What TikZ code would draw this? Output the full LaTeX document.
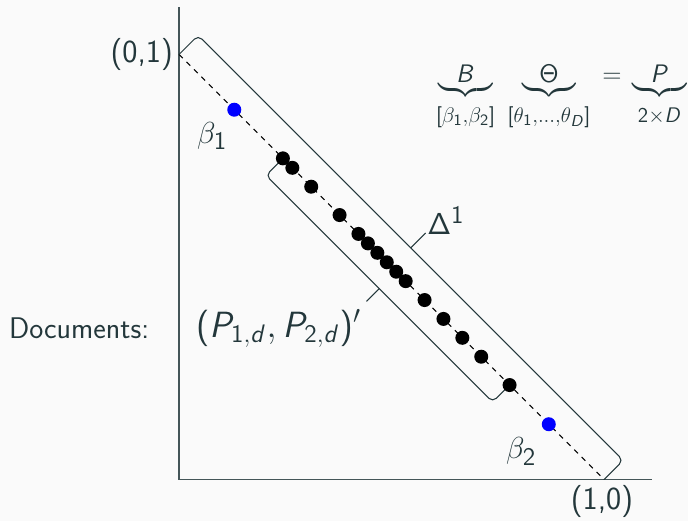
\documentclass[tikz,border=0pt]{standalone}
\usepackage{amsmath}
\usepackage{exscale}
\usepackage{xcolor}
\usepackage{tikz}
\usetikzlibrary{arrows.meta,positioning,calc}

\definecolor{fgdark}{HTML}{23373B}
\definecolor{bglight}{HTML}{FAFAFA}

% sans math letters, greek lowercase stays CM
\DeclareSymbolFont{sfletters}{OT1}{cmss}{m}{sl}
\SetSymbolFont{operators}{normal}{OT1}{cmss}{m}{n}
\DeclareMathSymbol{B}{\mathalpha}{sfletters}{`B}
\DeclareMathSymbol{P}{\mathalpha}{sfletters}{`P}
\DeclareMathSymbol{D}{\mathalpha}{sfletters}{`D}
\DeclareMathSymbol{d}{\mathalpha}{sfletters}{`d}

\newcommand{\bracelabel}[1]{\mbox{\fontsize{18.1}{21}\selectfont\rule{0pt}{12.5pt}$\scriptstyle#1$}}

\tikzset{
  docdot/.style={circle,fill=black,inner sep=0pt,minimum size=0.28cm},
  topicdot/.style={circle,fill=blue,inner sep=0pt,minimum size=0.28cm},
  bracketline/.style={fgdark,line width=0.6pt,rounded corners=3pt},
  lbl/.style={text=fgdark},
  mathlbl/.style={text=fgdark,font=\fontsize{19}{23}\selectfont},
  coordlbl/.style={text=fgdark,font=\fontsize{18.3}{22}\selectfont\sffamily},
  eqpart/.style={text=fgdark,inner sep=0pt,anchor=base,font=\fontsize{14.5}{17}\selectfont}
}

\begin{document}
\begin{tikzpicture}[x=8.5cm,y=8.5cm,>=Latex,font=\fontsize{17}{20}\selectfont\sffamily]
  \fill[bglight] (-0.4212,-0.0976) rectangle (1.1976,1.1282);
  \useasboundingbox (-0.4212,-0.0976) rectangle (1.1976,1.1282);

  % axes
  \draw[fgdark!85,line width=1pt] (0,1.111) -- (0,0) -- (1.112,0);
  \coordinate (top) at (0,1);
  \coordinate (bot) at (1,0);

  % documents on the simplex
  \foreach \t [count=\i] in {11,12,14,17,19,20,21,22,23,24,26,28,30,32,35}
    \coordinate (d\i) at (\t/45,{1-\t/45});

  \draw[black,line width=0.6pt,dashed] (top) -- (bot);

  % outer bracket: Delta^1
  \draw[bracketline] (top) -- ++(0.045,0.045) -- ($(bot)+(0.045,0.045)$) -- (bot);
  \coordinate (outmid) at ($(top)!0.5!(bot)+(0.045,0.045)$);
  \draw[fgdark,line width=0.6pt] (outmid) -- ++(0.035,0.035);

  % inner bracket: documents
  \draw[bracketline] (d1) -- ++(-0.04,-0.04) -- ($(d15)+(-0.04,-0.04)$) -- (d15);
  \coordinate (inmid) at ($(d1)!0.5!(d15)+(-0.04,-0.04)$);
  \draw[fgdark,line width=0.6pt] (inmid) -- ++(-0.03,-0.03);

  \foreach \i in {1,...,15}
    \node[docdot] (dot\i) at (d\i) {};
  \node[topicdot] (b1) at (0.13,0.87) {};
  \node[topicdot] (b2) at (0.87,0.13) {};

  % labels
  \node[coordlbl,left] (lab01) at (top) {(0,1)};
  \node[coordlbl,below,xshift=-0.04cm] (lab10) at (bot) {(1,0)};
  \node[mathlbl] (labb1) at (0.078,0.809) {$\beta_1$};
  \node[mathlbl] (labb2) at (0.805,0.066) {$\beta_2$};
  \node[mathlbl] (labdelta) at (0.628,0.609) {$\Delta^1$};
  \node[mathlbl,font=\fontsize{20}{24}\selectfont] (labdoc) at (0.234,0.355) {$(P_{1,d},P_{2,d})'$};
  \node[lbl] (labdocs) at (-0.235,0.355) {Documents:};

  % factorisation
  \node[eqpart] (eqB) at (0.6741,0.933)
    {$\underbrace{\makebox[1.1cm]{$B$}}_{\bracelabel{[\beta_1,\beta_2]}}$};
  \node[eqpart] (eqT) at (0.8706,0.933)
    {$\underbrace{\makebox[1.08cm]{$\Theta$}}_{\bracelabel{[\theta_1,\ldots,\theta_D]}}$};
  \node[eqpart] (eqeq) at (1.0188,0.933) {$=$};
  \node[eqpart] (eqP) at (1.1306,0.933)
    {$\underbrace{\makebox[1.1cm]{$P$}}_{\bracelabel{2\times D}}$};
\end{tikzpicture}
\end{document}
